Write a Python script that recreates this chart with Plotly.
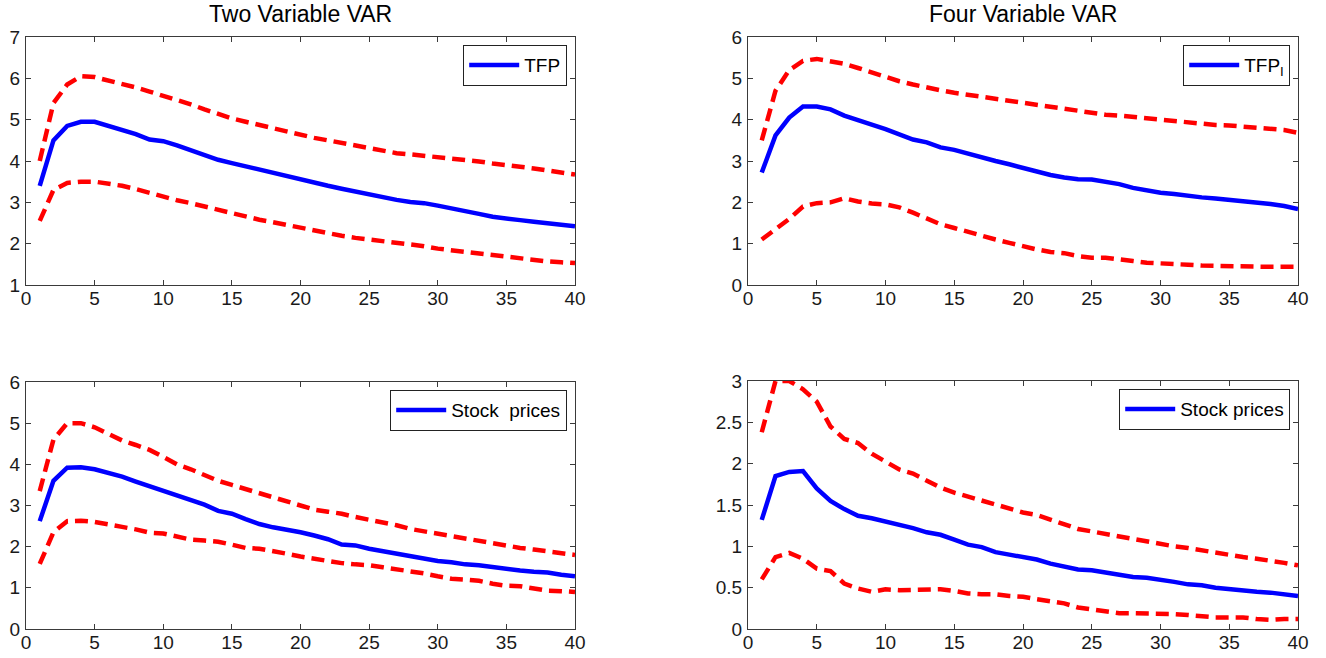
import plotly.graph_objects as go

horizon = list(range(1, 41))

# Two Variable VAR - TFP
tfp2_mid = [3.4, 4.5, 4.85, 4.95, 4.95, 4.85, 4.75, 4.65, 4.52, 4.48, 4.38, 4.27, 4.15, 4.03, 3.95, 3.87, 3.79, 3.71, 3.63, 3.54,
            3.47, 3.40, 3.33, 3.26, 3.18, 3.12, 3.06, 3.01, 2.98, 2.92, 2.86, 2.79, 2.72, 2.65, 2.62, 2.57, 2.53, 2.50, 2.47, 2.42]
tfp2_up = [4.0, 5.4, 5.85, 6.05, 6.03, 5.95, 5.87, 5.78, 5.68, 5.58, 5.48, 5.37, 5.25, 5.13, 5.03, 4.95, 4.87, 4.79, 4.70, 4.62,
           4.56, 4.50, 4.44, 4.38, 4.30, 4.25, 4.19, 4.16, 4.13, 4.10, 4.07, 4.03, 3.99, 3.94, 3.89, 3.86, 3.82, 3.77, 3.71, 3.67]
tfp2_lo = [2.55, 3.3, 3.47, 3.5, 3.5, 3.45, 3.4, 3.32, 3.23, 3.13, 3.05, 2.98, 2.90, 2.80, 2.72, 2.65, 2.58, 2.52, 2.45, 2.39,
           2.32, 2.25, 2.19, 2.14, 2.10, 2.07, 2.02, 1.98, 1.94, 1.88, 1.84, 1.80, 1.76, 1.72, 1.67, 1.63, 1.60, 1.57, 1.55, 1.53]

# Four Variable VAR - TFP_I
tfp4_mid = [2.72, 3.62, 4.05, 4.32, 4.32, 4.25, 4.10, 4.00, 3.88, 3.77, 3.65, 3.52, 3.45, 3.33, 3.27, 3.18, 3.07, 3.00, 2.92, 2.83,
            2.74, 2.66, 2.60, 2.56, 2.55, 2.50, 2.44, 2.35, 2.28, 2.23, 2.20, 2.15, 2.12, 2.09, 2.06, 2.02, 1.98, 1.96, 1.91, 1.84]
tfp4_up = [3.5, 4.7, 5.2, 5.42, 5.47, 5.42, 5.35, 5.25, 5.14, 5.05, 4.93, 4.85, 4.77, 4.71, 4.65, 4.60, 4.55, 4.50, 4.47, 4.42,
           4.37, 4.32, 4.27, 4.22, 4.17, 4.12, 4.10, 4.06, 4.02, 4.00, 3.97, 3.93, 3.89, 3.87, 3.86, 3.83, 3.80, 3.78, 3.75, 3.68]
tfp4_lo = [1.1, 1.35, 1.6, 1.9, 1.98, 2.0, 2.1, 2.02, 1.97, 1.95, 1.88, 1.75, 1.6, 1.47, 1.38, 1.28, 1.18, 1.10, 1.02, 0.93,
           0.86, 0.80, 0.77, 0.70, 0.66, 0.66, 0.63, 0.58, 0.54, 0.53, 0.51, 0.49, 0.47, 0.46, 0.46, 0.46, 0.45, 0.44, 0.44, 0.44]

# Two Variable VAR - Stock prices
sp2_mid = [2.62, 3.6, 3.92, 3.93, 3.88, 3.80, 3.70, 3.58, 3.47, 3.37, 3.25, 3.13, 3.02, 2.87, 2.80, 2.67, 2.55, 2.47, 2.42, 2.35,
           2.27, 2.18, 2.05, 2.03, 1.95, 1.89, 1.82, 1.76, 1.71, 1.65, 1.62, 1.57, 1.55, 1.50, 1.45, 1.42, 1.39, 1.37, 1.32, 1.28]
sp2_up = [3.35, 4.6, 5.0, 5.0, 4.9, 4.75, 4.58, 4.47, 4.35, 4.18, 4.0, 3.88, 3.75, 3.6, 3.5, 3.40, 3.30, 3.20, 3.08, 2.98,
          2.90, 2.85, 2.80, 2.72, 2.65, 2.60, 2.52, 2.43, 2.37, 2.31, 2.25, 2.20, 2.14, 2.08, 2.02, 1.97, 1.93, 1.88, 1.83, 1.80]
sp2_lo = [1.58, 2.35, 2.62, 2.63, 2.60, 2.55, 2.48, 2.42, 2.34, 2.32, 2.25, 2.17, 2.15, 2.12, 2.05, 1.97, 1.95, 1.90, 1.83, 1.76,
          1.70, 1.66, 1.60, 1.57, 1.55, 1.50, 1.45, 1.42, 1.35, 1.28, 1.22, 1.20, 1.17, 1.10, 1.05, 1.04, 0.98, 0.93, 0.92, 0.90]

# Four Variable VAR - Stock prices
sp4_mid = [1.32, 1.85, 1.90, 1.91, 1.70, 1.55, 1.45, 1.37, 1.34, 1.30, 1.27, 1.22, 1.17, 1.14, 1.08, 1.02, 0.99, 0.93, 0.90, 0.87,
           0.84, 0.79, 0.75, 0.72, 0.71, 0.68, 0.65, 0.63, 0.62, 0.60, 0.57, 0.54, 0.53, 0.50, 0.48, 0.47, 0.45, 0.44, 0.42, 0.40]
sp4_up = [2.38, 3.0, 3.0, 2.9, 2.75, 2.45, 2.3, 2.25, 2.12, 2.02, 1.93, 1.88, 1.80, 1.71, 1.65, 1.60, 1.55, 1.50, 1.46, 1.41,
          1.38, 1.32, 1.26, 1.21, 1.18, 1.15, 1.11, 1.08, 1.05, 1.02, 1.00, 0.98, 0.95, 0.92, 0.90, 0.87, 0.85, 0.83, 0.80, 0.77]
sp4_lo = [0.60, 0.87, 0.92, 0.85, 0.73, 0.70, 0.55, 0.49, 0.45, 0.48, 0.47, 0.47, 0.47, 0.48, 0.46, 0.43, 0.42, 0.42, 0.40, 0.39,
          0.36, 0.34, 0.31, 0.26, 0.24, 0.22, 0.19, 0.19, 0.19, 0.18, 0.18, 0.17, 0.15, 0.14, 0.14, 0.14, 0.12, 0.11, 0.12, 0.12]

titles = ["Two Variable VAR", "Four Variable VAR"]
x_ticks = [0, 5, 10, 15, 20, 25, 30, 35, 40]

W, H = 1326, 658
FONT = "Liberation Sans, Arial, sans-serif"
BLUE = "#0000ff"
RED = "#ff0000"

panels = [
    # (mid, up, lo, label, yrange, ydtick, px-box: left, right, top, bottom)
    (tfp2_mid, tfp2_up, tfp2_lo, "TFP", [1, 7], 1, (26, 575, 37, 285)),
    (tfp4_mid, tfp4_up, tfp4_lo, "TFP<sub>I</sub>", [0, 6], 1, (748, 1298, 37, 285)),
    (sp2_mid, sp2_up, sp2_lo, "Stock\u00a0 prices", [0, 6], 1, (26, 575, 382, 629)),
    (sp4_mid, sp4_up, sp4_lo, "Stock prices", [0, 3], 0.5, (748, 1298, 381, 629)),
]

fig = go.Figure()
layout = dict(
    width=W, height=H,
    margin=dict(l=0, r=0, t=0, b=0),
    paper_bgcolor="white", plot_bgcolor="white",
    font=dict(family=FONT, size=19, color="#000000"),
    showlegend=True,
    annotations=[],
)

for i, (mid, up, lo, label, yr, dt, box) in enumerate(panels, start=1):
    l, r, t, b = box
    xa = "x" if i == 1 else f"x{i}"
    ya = "y" if i == 1 else f"y{i}"
    lg = "legend" if i == 1 else f"legend{i}"
    fig.add_trace(go.Scatter(x=horizon, y=mid, mode="lines", name=label,
                             line=dict(color=BLUE, width=4.5), xaxis=xa, yaxis=ya, legend=lg))
    for band in (up, lo):
        fig.add_trace(go.Scatter(x=horizon, y=band, mode="lines", showlegend=False,
                                 line=dict(color=RED, width=4.5, dash="13px,7px"), xaxis=xa, yaxis=ya))
    xkey = "xaxis" if i == 1 else f"xaxis{i}"
    ykey = "yaxis" if i == 1 else f"yaxis{i}"
    axcommon = dict(showline=True, linecolor="#3a3a3a", linewidth=1.2, mirror="ticks",
                    ticks="inside", ticklen=5, tickcolor="#3a3a3a", showgrid=False,
                    zeroline=False, automargin=False, fixedrange=True,
                    tickfont=dict(family=FONT, size=19, color="#1a1a1a"))
    layout[xkey] = dict(axcommon, domain=[l / W, r / W], range=[0, 40], tickvals=x_ticks,
                        anchor=ya, ticklabelstandoff=-4)
    layout[ykey] = dict(axcommon, domain=[1 - b / H, 1 - t / H], range=yr, dtick=dt,
                        anchor=xa, ticklabelstandoff=1)
    layout[lg] = dict(x=(r - 8) / W, y=1 - (t + 8) / H, xanchor="right", yanchor="top",
                      xref="paper", yref="paper",
                      bgcolor="white", bordercolor="#222222", borderwidth=1.2,
                      font=dict(family=FONT, size=19, color="#000000"),
                      itemwidth=50, tracegroupgap=0)

for k, title in enumerate(titles):
    l, r, t, b = panels[k][6]
    layout["annotations"].append(dict(text=title, x=(l + r) / 2 / W, y=1 - 14 / H, xref="paper", yref="paper",
                                      xanchor="center", yanchor="middle", showarrow=False,
                                      font=dict(family=FONT, size=23, color="#000000")))

fig.update_layout(**layout)
fig.write_html("out.html", config={"displayModeBar": False},
               post_script="document.body.style.margin='0';document.body.style.padding='0';")
